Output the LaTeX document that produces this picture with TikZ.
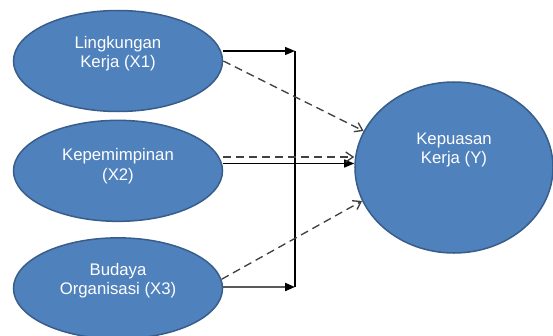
\documentclass[tikz,border=0pt]{standalone}
\usepackage{fontspec}
\setmainfont{Liberation Sans}
\usetikzlibrary{arrows.meta, positioning, shapes.geometric}
\definecolor{cfill}{HTML}{4F81BD}
\definecolor{cedge}{HTML}{385D8A}
\definecolor{cline}{HTML}{000000}
\definecolor{cgrey}{HTML}{404040}
\definecolor{cbar}{HTML}{5A5A5A}
\tikzset{
  every picture/.style={line width=0.04cm},
  var/.style={ellipse, draw=cedge, fill=cfill, line width=0.045cm, minimum width=6.27cm, minimum height=3.03cm, inner sep=0pt},
  vartext/.style={text=white, align=center, font=\fontsize{14.3}{16.4}\selectfont},
  arrow/.style={-{Triangle[length=0.3cm, width=0.24cm, color=cline]}, draw=cline},
  dasharrow/.style={-{Straight Barb[length=0.22cm, width=0.3cm]}, draw=cgrey, dashed, dash pattern=on 0.24cm off 0.15cm},
}

\begin{document}
\begin{tikzpicture}[x=0.03cm, y=-0.03cm]
  \useasboundingbox (0,0) rectangle (553,336);
  \node[var] (x1) at (118,61) {};
  \node[var, below=0.22cm of x1] (x2) {};
  \node[var, below=0.45cm of x2] (x3) {};
  \node[var, minimum width=5.94cm, minimum height=5.13cm] (y) at (454,167.5) {};
  \node[vartext] (t1) at ([yshift=0.21cm]x1.center) {Lingkungan\\Kerja (X1)};
  \node[vartext] (t2) at ([yshift=0.14cm]x2.center) {Kepemimpinan\\(X2)};
  \node[vartext] (t3) at ([yshift=0.22cm]x3.center) {Budaya\\Organisasi (X3)};
  \node[vartext] (ty) at ([yshift=0.52cm]y.center) {Kepuasan\\Kerja (Y)};
  \coordinate (top) at (295,51);
  \coordinate (bot) at (295,287);
  \coordinate (mid) at (0,163.5);
  \coordinate (dmid) at (0,157);
  % direct paths
  \draw[arrow] (x1.east |- top) -- (top);
  \draw[cline] (top) -- (bot);
  \draw[arrow, draw=cbar, line width=0.06cm] (x3.east |- bot) -- (bot);
  \draw[arrow] (x2.east |- mid) -- (y.west |- mid);
  % dashed paths
  \draw[dasharrow] (x1.east) -- (y.158);
  \draw[dasharrow] (x2.east |- dmid) -- (y.west |- dmid);
  \draw[dasharrow] (x3.5) -- (y.200);
\end{tikzpicture}
\end{document}
